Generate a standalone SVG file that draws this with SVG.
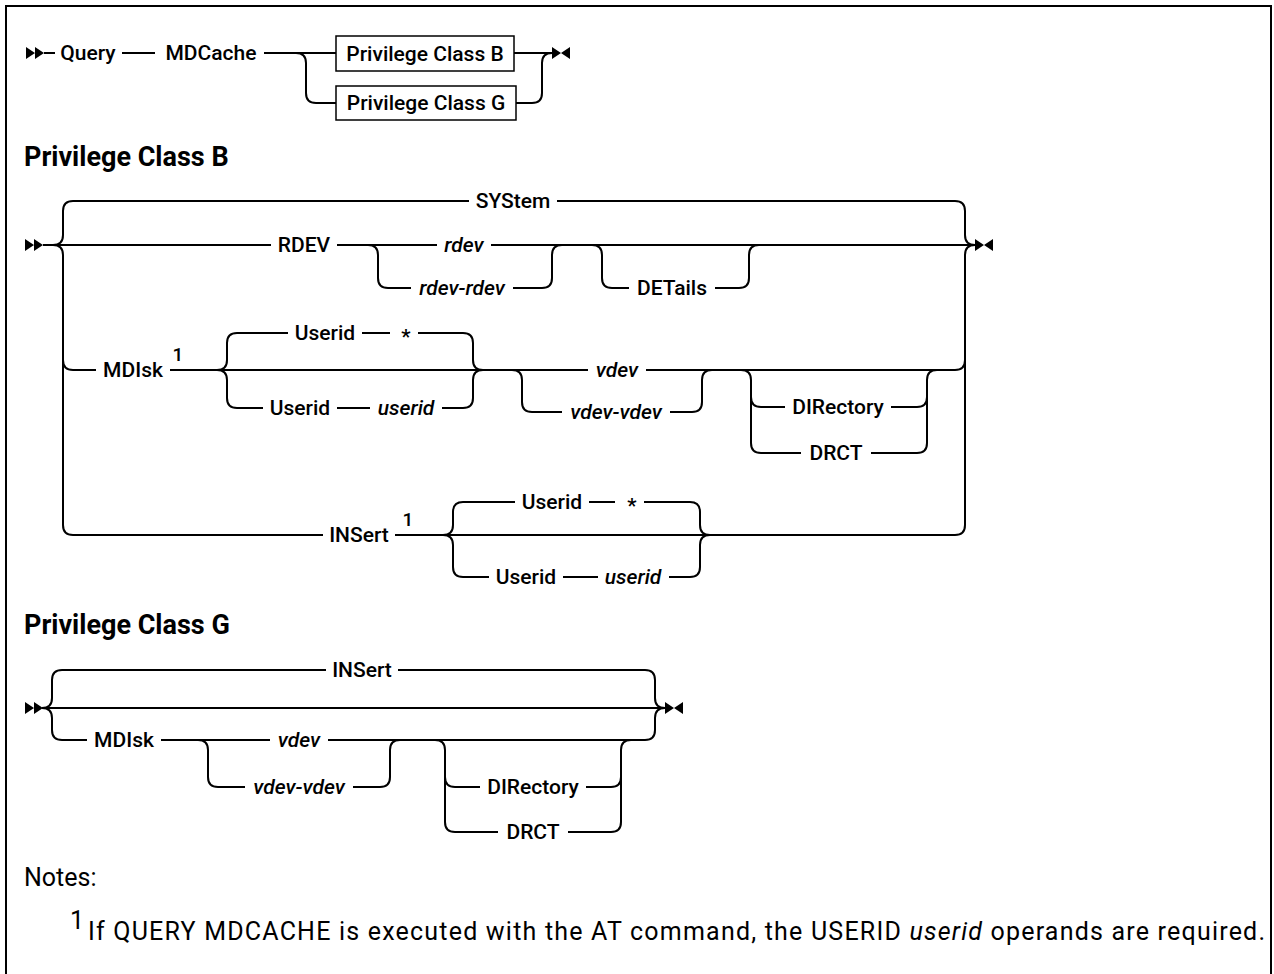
<svg xmlns="http://www.w3.org/2000/svg" width="1274" height="974" viewBox="0 0 1274 974">
<defs>
<style>
.k{font-family:Roboto,"Liberation Sans",sans-serif;font-size:21px;font-weight:500;fill:#000;text-anchor:middle}
.v{font-style:italic}
.sup{font-family:Roboto,"Liberation Sans",sans-serif;font-size:19px;font-weight:500;fill:#000;text-anchor:middle}
.t{font-family:Roboto,"Liberation Sans",sans-serif;font-size:27px;font-weight:700;fill:#000}
.n{font-family:Roboto,"Liberation Sans",sans-serif;font-size:25px;fill:#000}
.c{fill:none;stroke:#000;stroke-width:2}
.b{fill:#fff;stroke:#000;stroke-width:1.5}
.fr{fill:none;stroke:#000;stroke-width:2}
</style>
<g id="st"><path d="M0 -6 L9 0 L0 6Z M9 -6 L18 0 L9 6Z"/></g>
<g id="en"><path d="M0 -6 L9 0 L0 6Z M18 -6 L9 0 L18 6Z"/></g>
</defs>
<rect width="1274" height="974" fill="#fff"/>
<path class="fr" d="M6 990 L6 6 L1271 6 L1271 990"/>

<g id="connectors">
<!-- top row -->
<use href="#st" x="26" y="53"/>
<path class="c" d="M44 53 L55 53 M122 53 L155 53 M264 53 L336 53 M296 53 Q306 53 306 63 L306 93 Q306 103 316 103 L336 103"/>
<path class="c" d="M514 53 L552 53 M516 103 L532 103 Q542 103 542 93 L542 63 Q542 53 552 53"/>
<use href="#en" x="552" y="53"/>

<!-- section B -->
<use href="#st" x="25" y="245"/>
<path class="c" d="M43 245 L271 245 M337 245 L437 245 M491 245 L975 245"/>
<path class="c" d="M53 245 Q63 245 63 235 L63 211 Q63 201 73 201 L469 201 M557 201 L955 201 Q965 201 965 211 L965 235 Q965 245 975 245"/>
<path class="c" d="M53 245 Q63 245 63 255 L63 525 Q63 535 73 535 L323 535"/>
<path class="c" d="M395 535 L955 535 Q965 535 965 525 L965 255 Q965 245 975 245"/>
<path class="c" d="M368 245 Q378 245 378 255 L378 278 Q378 288 388 288 L411 288 M513 288 L542 288 Q552 288 552 278 L552 255 Q552 245 562 245"/>
<path class="c" d="M592 245 Q602 245 602 255 L602 278 Q602 288 612 288 L629 288 M715 288 L739 288 Q749 288 749 278 L749 255 Q749 245 759 245"/>
<path class="c" d="M63 360 Q63 370 73 370 L96 370 M170 370 L588 370 M646 370 L955 370 Q965 370 965 360"/>
<path class="c" d="M217 370 Q227 370 227 360 L227 343 Q227 333 237 333 L288 333 M362 333 L390 333 M418 333 L463 333 Q473 333 473 343 L473 360 Q473 370 483 370"/>
<path class="c" d="M217 370 Q227 370 227 380 L227 398 Q227 408 237 408 L263 408 M337 408 L370 408 M442 408 L463 408 Q473 408 473 398 L473 380 Q473 370 483 370"/>
<path class="c" d="M512 370 Q522 370 522 380 L522 402 Q522 412 532 412 L562 412 M670 412 L692 412 Q702 412 702 402 L702 380 Q702 370 712 370"/>
<path class="c" d="M741 370 Q751 370 751 380 L751 443 Q751 453 761 453 L801 453 M871 453 L917 453 Q927 453 927 443 L927 380 Q927 370 937 370"/>
<path class="c" d="M751 397 Q751 407 761 407 L785 407 M891 407 L917 407 Q927 407 927 397"/>
<path class="c" d="M443 535 Q453 535 453 525 L453 512 Q453 502 463 502 L515 502 M589 502 L615 502 M644 502 L690 502 Q700 502 700 512 L700 525 Q700 535 710 535"/>
<path class="c" d="M443 535 Q453 535 453 545 L453 567 Q453 577 463 577 L489 577 M563 577 L598 577 M669 577 L690 577 Q700 577 700 567 L700 545 Q700 535 710 535"/>
<use href="#en" x="975" y="245"/>

<!-- section G -->
<use href="#st" x="25" y="708"/>
<path class="c" d="M43 708 L665 708"/>
<path class="c" d="M42 708 Q52 708 52 698 L52 680 Q52 670 62 670 L326 670 M398 670 L645 670 Q655 670 655 680 L655 698 Q655 708 665 708"/>
<path class="c" d="M42 708 Q52 708 52 718 L52 730 Q52 740 62 740 L87 740 M161 740 L270 740 M328 740 L645 740 Q655 740 655 730 L655 718 Q655 708 665 708"/>
<path class="c" d="M198 740 Q208 740 208 750 L208 777 Q208 787 218 787 L245 787 M353 787 L380 787 Q390 787 390 777 L390 750 Q390 740 400 740"/>
<path class="c" d="M435 740 Q445 740 445 750 L445 822 Q445 832 455 832 L498 832 M568 832 L611 832 Q621 832 621 822 L621 750 Q621 740 631 740"/>
<path class="c" d="M445 777 Q445 787 455 787 L480 787 M586 787 L611 787 Q621 787 621 777"/>
<use href="#en" x="665" y="708"/>
</g>

<!-- top row nodes -->
<g id="n-query"><text class="k" x="88" y="60">Query</text></g>
<g id="n-mdcache"><text class="k" x="211" y="60">MDCache</text></g>
<g id="n-refB"><rect class="b" x="336" y="36" width="178" height="35"/><text class="k" x="425" y="61">Privilege Class B</text></g>
<g id="n-refG"><rect class="b" x="336" y="86" width="180" height="34"/><text class="k" x="426" y="110">Privilege Class G</text></g>

<!-- section B -->
<g id="title-B"><text class="t" x="24" y="166">Privilege Class B</text></g>
<g id="b-system"><text class="k" x="513" y="208">SYStem</text></g>
<g id="b-rdev-kw"><text class="k" x="304" y="252">RDEV</text></g>
<g id="b-rdev"><text class="k v" x="464" y="252">rdev</text></g>
<g id="b-rdevrange"><text class="k v" x="462" y="295">rdev-rdev</text></g>
<g id="b-details"><text class="k" x="672" y="295">DETails</text></g>
<g id="b-mdisk"><text class="k" x="133" y="377">MDIsk</text><text class="sup" x="178" y="361">1</text></g>
<g id="b-userid-def"><text class="k" x="325" y="340">Userid</text><text class="k" x="406" y="344">*</text></g>
<g id="b-userid"><text class="k" x="300" y="415">Userid</text><text class="k v" x="406" y="415">userid</text></g>
<g id="b-vdev"><text class="k v" x="617" y="377">vdev</text></g>
<g id="b-vdevrange"><text class="k v" x="616" y="419">vdev-vdev</text></g>
<g id="b-directory"><text class="k" x="838" y="414">DIRectory</text></g>
<g id="b-drct"><text class="k" x="836" y="460">DRCT</text></g>
<g id="b-insert"><text class="k" x="359" y="542">INSert</text><text class="sup" x="408" y="526">1</text></g>
<g id="b-ins-userid-def"><text class="k" x="552" y="509">Userid</text><text class="k" x="632" y="513">*</text></g>
<g id="b-ins-userid"><text class="k" x="526" y="584">Userid</text><text class="k v" x="633" y="584">userid</text></g>

<!-- section G -->
<g id="title-G"><text class="t" x="24" y="634">Privilege Class G</text></g>
<g id="g-insert"><text class="k" x="362" y="677">INSert</text></g>
<g id="g-mdisk"><text class="k" x="124" y="747">MDIsk</text></g>
<g id="g-vdev"><text class="k v" x="299" y="747">vdev</text></g>
<g id="g-vdevrange"><text class="k v" x="299" y="794">vdev-vdev</text></g>
<g id="g-directory"><text class="k" x="533" y="794">DIRectory</text></g>
<g id="g-drct"><text class="k" x="533" y="839">DRCT</text></g>

<!-- notes -->
<g id="notes">
<text class="n" x="24" y="886">Notes:</text>
<text class="n" x="70" y="929" font-size="18">1</text>
<text class="n" x="88" y="940" textLength="1177" lengthAdjust="spacing">If QUERY MDCACHE is executed with the AT command, the USERID <tspan font-style="italic">userid</tspan> operands are required.</text>
</g>
</svg>
